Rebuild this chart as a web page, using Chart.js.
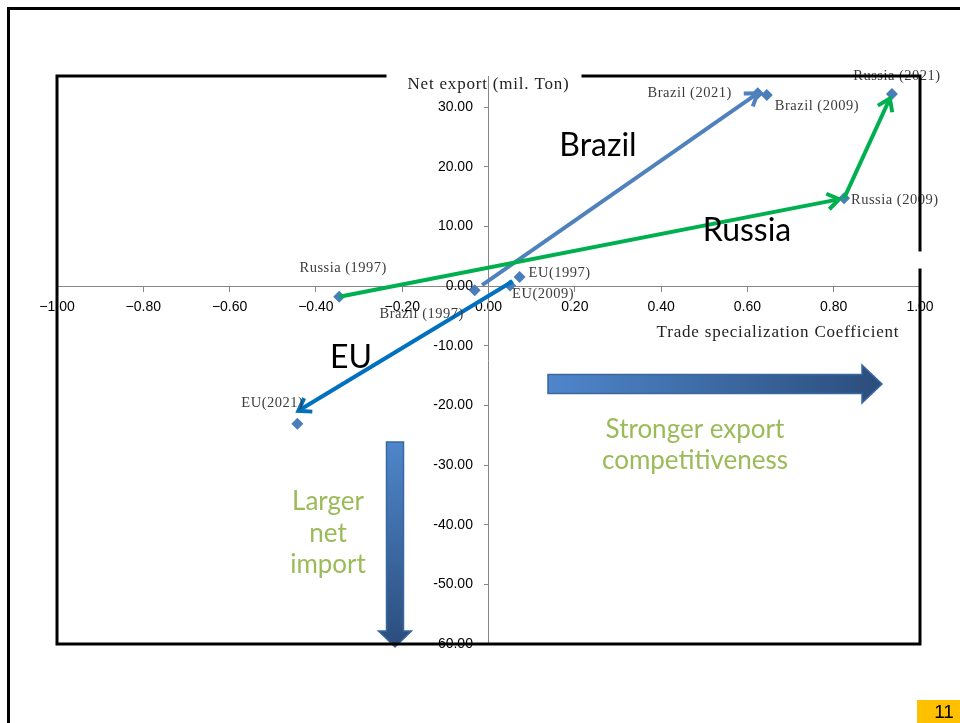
<!DOCTYPE html>
<html>
<head>
<meta charset="utf-8">
<script src="https://cdn.jsdelivr.net/npm/chart.js@4.4.1/dist/chart.umd.min.js"></script>
<style>
  html, body { margin: 0; padding: 0; background: #fff; }
  canvas { display: block; }
</style>
</head>
<body>
<canvas id="tradeChart" width="960" height="723"></canvas>
<script>
// Trade specialization coefficient (x) against net export in mil. ton (y)
const years = ['1997', '2009', '2021'];
const brazilTsc = [-0.032, 0.645, 0.624];
const brazilNet = [-0.7, 32.0, 32.3];
const russiaTsc = [-0.346, 0.824, 0.935];
const russiaNet = [-1.8, 14.7, 32.2];
const euTsc = [0.072, 0.05, -0.443];
const euNet = [1.5, 0.1, -23.1];
const brazilNames = years.map(y => 'Brazil (' + y + ')');
const russiaNames = years.map(y => 'Russia (' + y + ')');
const euNames = years.map(y => 'EU(' + y + ')');
const xTicks = [-1, -0.8, -0.6, -0.4, -0.2, 0, 0.2, 0.4, 0.6, 0.8, 1];
const yTicks = [30, 20, 10, 0, -10, -20, -30, -40, -50, -60];

const toPoints = (xs, ys) => xs.map((x, i) => ({ x: x, y: ys[i] }));
const markerBlue = '#4a7ebb';

const serif = '"Liberation Serif", "DejaVu Serif", serif';
const sans = '"Liberation Sans", Arial, sans-serif';
const body = 'Lato, "Open Sans", sans-serif';

// where each point label sits: [dx, dy, align]
const labelSpots = [
  [[-53, 24, 'center'], [8, 11, 'left'], [-26, 0, 'right']],
  [[4, -29, 'center'], [7, 2, 'left'], [5, -18, 'center']],
  [[9, -4, 'left'], [2, 9, 'left'], [-25, -21, 'center']]
];
const labelNames = [brazilNames, russiaNames, euNames];

// trend arrows between points: dataset, from index, to index
const trendArrows = [
  { ds: 0, from: 0, to: 2, color: '#4f81bd', trimStart: 9, trimEnd: 0, endShift: [0, 0] },
  { ds: 1, from: 0, to: 1, color: '#00b050', trimStart: 0, trimEnd: 5, endShift: [0, 0] },
  { ds: 1, from: 1, to: 2, color: '#00b050', trimStart: 0, trimEnd: 5, endShift: [0, 0] },
  { ds: 2, from: 0, to: 2, color: '#0070c0', trimStart: 8, trimEnd: 0, endShift: [1, -13] }
];

function fmtX(v) {
  const s = Math.abs(v).toFixed(2);
  return v < -1e-9 ? '\u2212' + s : s;
}

function drawArrow(ctx, x1, y1, x2, y2, color) {
  const ang = Math.atan2(y2 - y1, x2 - x1);
  const head = 14, spread = 0.6;
  ctx.save();
  ctx.strokeStyle = color;
  ctx.lineWidth = 4;
  ctx.lineCap = 'butt';
  ctx.lineJoin = 'miter';
  ctx.beginPath();
  ctx.moveTo(x1, y1);
  ctx.lineTo(x2 - Math.cos(ang) * 2, y2 - Math.sin(ang) * 2);
  ctx.stroke();
  ctx.beginPath();
  ctx.moveTo(x2 - head * Math.cos(ang - spread), y2 - head * Math.sin(ang - spread));
  ctx.lineTo(x2, y2);
  ctx.lineTo(x2 - head * Math.cos(ang + spread), y2 - head * Math.sin(ang + spread));
  ctx.stroke();
  ctx.restore();
}

function blockArrowRight(ctx, x0, x1, xh, yc, bodyH, headH) {
  const g = ctx.createLinearGradient(x0, 0, x1, 0);
  g.addColorStop(0, '#4f86cb');
  g.addColorStop(1, '#2b4d7c');
  ctx.beginPath();
  ctx.moveTo(x0, yc - bodyH / 2);
  ctx.lineTo(xh, yc - bodyH / 2);
  ctx.lineTo(xh, yc - headH / 2);
  ctx.lineTo(x1, yc);
  ctx.lineTo(xh, yc + headH / 2);
  ctx.lineTo(xh, yc + bodyH / 2);
  ctx.lineTo(x0, yc + bodyH / 2);
  ctx.closePath();
  ctx.fillStyle = g;
  ctx.fill();
  ctx.strokeStyle = '#3a689e';
  ctx.lineWidth = 1.5;
  ctx.stroke();
}

function blockArrowDown(ctx, y0, y1, yh, xc, bodyW, headW) {
  const g = ctx.createLinearGradient(0, y0, 0, y1);
  g.addColorStop(0, '#4f86cb');
  g.addColorStop(1, '#2b4d7c');
  ctx.beginPath();
  ctx.moveTo(xc - bodyW / 2, y0);
  ctx.lineTo(xc + bodyW / 2, y0);
  ctx.lineTo(xc + bodyW / 2, yh);
  ctx.lineTo(xc + headW / 2, yh);
  ctx.lineTo(xc, y1);
  ctx.lineTo(xc - headW / 2, yh);
  ctx.lineTo(xc - bodyW / 2, yh);
  ctx.closePath();
  ctx.fillStyle = g;
  ctx.fill();
  ctx.strokeStyle = '#3a689e';
  ctx.lineWidth = 1.5;
  ctx.stroke();
}

const decorations = {
  id: 'decorations',
  afterDatasetsDraw(chart) {
    const ctx = chart.ctx;

    // trend arrows
    trendArrows.forEach(a => {
      const pts = chart.getDatasetMeta(a.ds).data;
      let x1 = pts[a.from].x, y1 = pts[a.from].y;
      let x2 = pts[a.to].x + a.endShift[0], y2 = pts[a.to].y + a.endShift[1];
      const len = Math.hypot(x2 - x1, y2 - y1);
      const ux = (x2 - x1) / len, uy = (y2 - y1) / len;
      x1 += ux * a.trimStart; y1 += uy * a.trimStart;
      x2 -= ux * a.trimEnd; y2 -= uy * a.trimEnd;
      drawArrow(ctx, x1, y1, x2, y2, a.color);
    });

    // point labels
    ctx.save();
    ctx.font = '14.5px ' + serif;
    ctx.letterSpacing = '0.5px';
    ctx.fillStyle = '#3c3c3c';
    ctx.textBaseline = 'middle';
    labelNames.forEach((names, d) => {
      const pts = chart.getDatasetMeta(d).data;
      names.forEach((name, i) => {
        const [dx, dy, align] = labelSpots[d][i];
        ctx.textAlign = align;
        ctx.fillText(name, pts[i].x + dx, pts[i].y + dy);
      });
    });
    ctx.restore();

    // series names
    ctx.save();
    ctx.fillStyle = '#000';
    ctx.font = '32px ' + body;
    ctx.textAlign = 'center';
    ctx.textBaseline = 'middle';
    ctx.fillText('Brazil', 598, 146);
    ctx.fillText('Russia', 747, 231);
    ctx.fillText('EU', 351, 358);
    ctx.restore();

    // direction hints
    blockArrowRight(ctx, 548, 882, 862, 384, 19, 38);
    blockArrowDown(ctx, 442, 647, 631, 395, 17, 33);
    ctx.save();
    ctx.fillStyle = '#9bbb59';
    ctx.font = '26px ' + body;
    ctx.textAlign = 'center';
    ctx.textBaseline = 'middle';
    ctx.fillText('Stronger export', 695, 430);
    ctx.fillText('competitiveness', 695, 461);
    ctx.fillText('Larger', 328, 502);
    ctx.fillText('net', 328, 534);
    ctx.fillText('import', 328, 565);
    ctx.restore();
  },
  afterDraw(chart) {
    const ctx = chart.ctx;
    const { left, right, top, bottom } = chart.chartArea;
    const yAxisX = chart.scales.x.getPixelForValue(0);

    // plot frame with openings for the axis title and the right edge
    ctx.save();
    ctx.strokeStyle = '#000';
    ctx.lineWidth = 3;
    ctx.lineCap = 'square';
    ctx.beginPath();
    ctx.moveTo(385, top); ctx.lineTo(left, top); ctx.lineTo(left, bottom);
    ctx.lineTo(right, bottom); ctx.lineTo(right, 270);
    ctx.moveTo(right, 250); ctx.lineTo(right, top); ctx.lineTo(583, top);
    ctx.stroke();

    // slide border
    ctx.beginPath();
    ctx.moveTo(8.5, 723); ctx.lineTo(8.5, 8.5); ctx.lineTo(960, 8.5);
    ctx.stroke();
    ctx.restore();

    // axis titles
    ctx.save();
    ctx.fillStyle = '#222';
    ctx.font = '17px ' + serif;
    ctx.letterSpacing = '0.8px';
    ctx.textBaseline = 'middle';
    ctx.textAlign = 'center';
    ctx.fillText('Net export (mil. Ton)', yAxisX, 85);
    ctx.fillText('Trade specialization Coefficient', 778, 333);
    ctx.restore();

    // page number
    ctx.save();
    ctx.fillStyle = '#ffc000';
    ctx.fillRect(917, 700, 43, 23);
    ctx.fillStyle = '#000';
    ctx.font = '19px ' + sans;
    ctx.textAlign = 'center';
    ctx.textBaseline = 'middle';
    ctx.fillText('11', 944, 713);
    ctx.restore();
  }
};

const pointStyle = {
  pointStyle: 'rectRot',
  pointRadius: 6,
  pointBackgroundColor: markerBlue,
  pointBorderColor: markerBlue,
  pointBorderWidth: 0,
  showLine: false
};

new Chart(document.getElementById('tradeChart'), {
  type: 'scatter',
  data: {
    datasets: [
      Object.assign({ label: 'Brazil', data: toPoints(brazilTsc, brazilNet) }, pointStyle),
      Object.assign({ label: 'Russia', data: toPoints(russiaTsc, russiaNet) }, pointStyle),
      Object.assign({ label: 'EU', data: toPoints(euTsc, euNet) }, pointStyle)
    ]
  },
  options: {
    responsive: false,
    animation: false,
    devicePixelRatio: 1,
    layout: { padding: { left: 57, top: 76, right: 40, bottom: 79 } },
    plugins: { legend: { display: false }, tooltip: { enabled: false } },
    scales: {
      x: {
        type: 'linear',
        position: { y: 0 },
        min: -1,
        max: 1,
        afterBuildTicks: s => { s.ticks = xTicks.map(v => ({ value: v })); },
        grid: { drawOnChartArea: false, tickLength: 5, color: '#868686' },
        border: { color: '#868686', width: 1 },
        ticks: {
          callback: v => fmtX(v),
          font: { family: sans, size: 14 },
          color: '#000',
          padding: 8,
          maxRotation: 0,
          autoSkip: false
        }
      },
      y: {
        type: 'linear',
        position: { x: 0 },
        min: -60,
        max: 35.2,
        afterBuildTicks: s => { s.ticks = yTicks.map(v => ({ value: v })); },
        grid: { drawOnChartArea: false, tickLength: 4, color: '#868686' },
        border: { color: '#868686', width: 1 },
        ticks: {
          // labels sit against the axis, so pad them with trailing spaces
          callback: v => v.toFixed(2) + '    ',
          font: { family: sans, size: 14 },
          color: '#000',
          autoSkip: false
        }
      }
    }
  },
  plugins: [decorations]
});
</script>
</body>
</html>
